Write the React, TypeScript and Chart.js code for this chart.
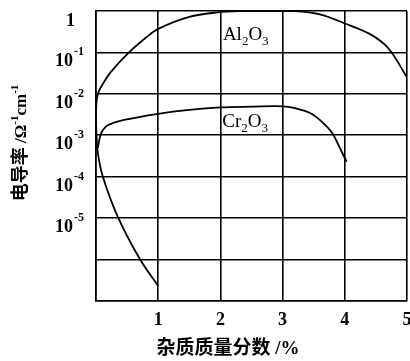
import React, { useEffect, useRef } from 'react';
import { Chart, registerables } from 'chart.js';

Chart.register(...registerables);

// x axis: impurity mass fraction (%)
const xTickValues = [0, 1, 2, 3, 4, 5];
const xTickLabels = ['', '1', '2', '3', '4', '5'];
// y axis: conductivity (log scale)
const yTickValues = [1e-7, 1e-6, 1e-5, 1e-4, 1e-3, 1e-2, 1e-1, 1];
const yTickBase = ['', '', '10', '10', '10', '10', '10', '1'];
const yTickSup = ['', '', '-5', '-4', '-3', '-2', '-1', ''];

// Al2O3 curve (ordered along the path)
const alX = [1.0, 0.71, 0.36, 0.11, 0.03, 0.008, 0.0, 0.005, 0.03, 0.13, 0.24, 0.53, 0.79, 1.0, 1.5, 1.95, 2.3, 2.8, 3.15, 3.6, 4.0, 4.4, 4.7, 5.0];
const alY = [2.3e-7, 1e-6, 1e-5, 1e-4, 3.7e-4, 1e-3, 2.5e-3, 5.4e-3, 1e-2, 1.95e-2, 3.4e-2, 0.1, 0.22, 0.37, 0.72, 0.93, 1, 1, 1, 0.83, 0.5, 0.28, 0.126, 0.025];

// Cr2O3 curve
const crX = [0.03, 0.07, 0.12, 0.2, 0.45, 1.0, 1.5, 2.0, 2.5, 3.0, 3.2, 3.45, 3.65, 3.8, 3.95, 4.03];
const crY = [5e-4, 1.0e-3, 1.4e-3, 1.78e-3, 2.34e-3, 3.3e-3, 4.1e-3, 4.7e-3, 4.9e-3, 5.0e-3, 4.5e-3, 3.4e-3, 2.0e-3, 1.12e-3, 4.0e-4, 2.3e-4];

const seriesNames = ['Al2O3', 'Cr2O3'];
const xTitleCJK = '杂质质量分数';
const xTitleLatin = ' /%';
const yTitleCJK = '电导率';

const SERIF = "'Liberation Serif', 'DejaVu Serif', serif";
const CJK = "'Noto Sans CJK SC', sans-serif";

function drawChem(ctx: CanvasRenderingContext2D, x: number, y: number, el1: string) {
  const big = `19px ${SERIF}`;
  const small = `13px ${SERIF}`;
  let cx = x;
  ctx.font = big; ctx.fillText(el1, cx, y); cx += ctx.measureText(el1).width;
  ctx.font = small; ctx.fillText('2', cx, y + 5); cx += ctx.measureText('2').width;
  ctx.font = big; ctx.fillText('O', cx, y); cx += ctx.measureText('O').width;
  ctx.font = small; ctx.fillText('3', cx, y + 5);
}

const textPlugin = {
  id: 'textPlugin',
  afterDraw(chart: any) {
    const ctx: CanvasRenderingContext2D = chart.ctx;
    const xs = chart.scales.x;
    const ys = chart.scales.y;
    ctx.save();
    ctx.fillStyle = '#000';
    ctx.textBaseline = 'alphabetic';

    // x tick labels
    ctx.font = `bold 18px ${SERIF}`;
    ctx.textAlign = 'center';
    xTickValues.forEach((v, i) => {
      if (!xTickLabels[i]) return;
      ctx.fillText(xTickLabels[i], xs.getPixelForValue(v), 325);
    });

    // y tick labels
    ctx.textAlign = 'left';
    yTickValues.forEach((v, i) => {
      const base = yTickBase[i];
      if (!base) return;
      const py = ys.getPixelForValue(v);
      ctx.font = `bold 18px ${SERIF}`;
      if (base === '1') {
        ctx.fillText('1', 66, py + 15);
        return;
      }
      ctx.fillText(base, 55, py + 14);
      const w = ctx.measureText(base).width;
      ctx.font = `bold 12px ${SERIF}`;
      ctx.fillText(yTickSup[i], 55 + w + 1, py + 3);
    });

    // x title
    ctx.font = `bold 19px ${CJK}`;
    const wc = ctx.measureText(xTitleCJK).width;
    ctx.font = `bold 19px ${SERIF}`;
    const wl = ctx.measureText(xTitleLatin).width;
    const startX = 228 - (wc + wl) / 2;
    ctx.font = `bold 19px ${CJK}`;
    ctx.fillText(xTitleCJK, startX, 354);
    ctx.font = `bold 19px ${SERIF}`;
    ctx.fillText(xTitleLatin, startX + wc, 354);

    // y title (rotated)
    ctx.save();
    ctx.translate(26, 143);
    ctx.rotate(-Math.PI / 2);
    const parts: [string, string, number][] = [
      [yTitleCJK, `bold 18px ${CJK}`, 0],
      [' /Ω', `bold 17px ${SERIF}`, 0],
      ['-1', `bold 11px ${SERIF}`, -8],
      ['cm', `bold 17px ${SERIF}`, 0],
      ['-1', `bold 11px ${SERIF}`, -8],
    ];
    let total = 0;
    parts.forEach(([t, f]) => { ctx.font = f; total += ctx.measureText(t).width; });
    let cx = -total / 2;
    parts.forEach(([t, f, dy]) => {
      ctx.font = f;
      ctx.fillText(t, cx, dy);
      cx += ctx.measureText(t).width;
    });
    ctx.restore();

    // series labels
    drawChem(ctx, xs.getPixelForValue(2.04), ys.getPixelForValue(0.2), 'Al');
    drawChem(ctx, xs.getPixelForValue(2.03), ys.getPixelForValue(1.6e-3), 'Cr');

    ctx.restore();
  },
};

export default function App() {
  const ref = useRef<HTMLCanvasElement>(null);
  useEffect(() => {
    const canvas = ref.current!;
    const chart = new Chart(canvas, {
      type: 'scatter',
      data: {
        datasets: [
          {
            label: seriesNames[0],
            data: alX.map((x, i) => ({ x, y: alY[i] })),
            showLine: true,
            borderColor: '#000',
            borderWidth: 1.8,
            pointRadius: 0,
            tension: 0.35,
            fill: false,
          },
          {
            label: seriesNames[1],
            data: crX.map((x, i) => ({ x, y: crY[i] })),
            showLine: true,
            borderColor: '#000',
            borderWidth: 1.8,
            pointRadius: 0,
            tension: 0.35,
            fill: false,
          },
        ],
      },
      options: {
        responsive: false,
        animation: false,
        layout: { padding: { left: 96, right: 3, top: 11, bottom: 60 } },
        plugins: { legend: { display: false }, tooltip: { enabled: false } },
        scales: {
          x: {
            type: 'linear',
            min: 0,
            max: 5,
            afterBuildTicks: (s: any) => { s.ticks = xTickValues.map((v) => ({ value: v })); },
            ticks: { display: false },
            grid: { color: '#000', lineWidth: 1.6, drawTicks: false },
            border: { color: '#000', width: 1.6 },
          },
          y: {
            type: 'logarithmic',
            min: 1e-7,
            max: 1,
            afterBuildTicks: (s: any) => { s.ticks = yTickValues.map((v) => ({ value: v })); },
            ticks: { display: false },
            grid: { color: '#000', lineWidth: 1.6, drawTicks: false },
            border: { color: '#000', width: 1.6 },
          },
        },
      },
      plugins: [textPlugin],
    });
    return () => chart.destroy();
  }, []);
  return (
    <div style={{ position: 'absolute', left: 0, top: 0, width: 410, height: 361, background: '#fff' }}>
      <canvas ref={ref} width={410} height={361} style={{ display: 'block', width: 410, height: 361 }} />
    </div>
  );
}
